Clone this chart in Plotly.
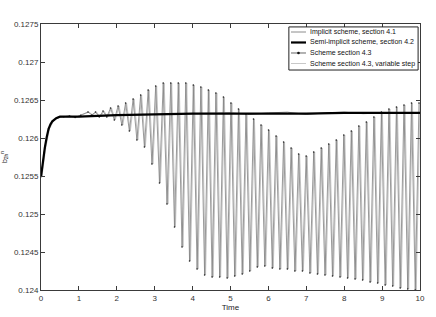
import numpy as np
import plotly.graph_objects as go

# ---- data ----
# Semi-implicit scheme (thick black)
semi_t = [0, 0.05, 0.1, 0.15, 0.2, 0.25, 0.3, 0.4, 0.5, 0.7, 1, 2, 3, 4, 5, 6, 7, 8, 9, 10]
semi_v = [0.12549, 0.12571, 0.12587, 0.12601, 0.12612, 0.12618, 0.12622, 0.12626, 0.12628,
          0.12628, 0.12628, 0.12630, 0.12631, 0.12632, 0.12632, 0.12632, 0.12632, 0.12633, 0.12633, 0.12633]

# Implicit scheme (gray, nearly hidden under the black line)
impl_t = [0, 0.05, 0.1, 0.15, 0.2, 0.25, 0.3, 0.4, 0.5, 0.7, 1, 2, 3, 4, 5, 5.5, 6, 6.5, 7, 7.5, 8, 8.5, 9, 10]
impl_v = [0.12549, 0.12570, 0.12586, 0.12600, 0.12611, 0.12618, 0.12622, 0.12626, 0.12628,
          0.12628, 0.12628, 0.12630, 0.12631, 0.12632, 0.12633, 0.12631, 0.12633, 0.12634, 0.12631,
          0.12633, 0.12634, 0.12632, 0.12633, 0.12633]

# Scheme section 4.3: start-up samples then alternating peaks / troughs
start_t = [0, 0.1, 0.2, 0.3, 0.45, 0.6, 0.75, 0.9, 1.05]
start_v = [0.12549, 0.12587, 0.12612, 0.12622, 0.12627, 0.12628, 0.12629, 0.12627, 0.12630]

peak_v = [0.126342, 0.126342, 0.126355, 0.126395, 0.126421, 0.126461, 0.126513, 0.126566, 0.126632, 0.126684,
          0.126724, 0.126724, 0.126724, 0.126724, 0.126697, 0.126671, 0.126632, 0.126592, 0.126539, 0.126461,
          0.126382, 0.126316, 0.126250, 0.126171, 0.126105, 0.126026, 0.125947, 0.125868, 0.125789, 0.125763,
          0.125816, 0.125868, 0.125921, 0.125974, 0.126039, 0.126092, 0.126158, 0.126211, 0.126276, 0.126342,
          0.126382, 0.126408, 0.126434, 0.126461, 0.126461]
trough_v = [0.126303, 0.126276, 0.126276, 0.126237, 0.126171, 0.126092, 0.125974, 0.125882, 0.125658, 0.125408,
            0.125132, 0.124829, 0.124566, 0.124382, 0.124276, 0.124197, 0.124171, 0.124171, 0.124158, 0.124184,
            0.124211, 0.124250, 0.124303, 0.124316, 0.124289, 0.124276, 0.124276, 0.124250, 0.124250, 0.124224,
            0.124211, 0.124197, 0.124184, 0.124171, 0.124158, 0.124145, 0.124132, 0.124105, 0.124092, 0.124066,
            0.124053, 0.124026, 0.124013, 0.124000]
first_peak_time = 1.24
half_period = 0.09925

x_ticks = [0, 1, 2, 3, 4, 5, 6, 7, 8, 9, 10]
y_ticks = [0.124, 0.1245, 0.125, 0.1255, 0.126, 0.1265, 0.127, 0.1275]
y_tick_text = ["0.124", "0.1245", "0.125", "0.1255", "0.126", "0.1265", "0.127", "0.1275"]

legend_names = ["Implicit scheme, section 4.1", "Semi-implicit scheme, section 4.2",
                "Scheme section 4.3", "Scheme section 4.3, variable step"]
legend_colors = ["#8c8c8c", "#000000", "#666666", "#c8c8c8"]
legend_widths = [1, 2.2, 1, 1]

# ---- assemble oscillating series (interleave peaks and troughs) ----
osc_v = []
for i in range(len(peak_v)):
    osc_v.append(peak_v[i])
    if i < len(trough_v):
        osc_v.append(trough_v[i])
osc_t = list(first_peak_time + half_period * np.arange(len(osc_v)))
s43_t = start_t + osc_t
s43_v = start_v + osc_v
var_t = [t + 0.025 for t in s43_t]

FONT = "Liberation Sans, Arial"

fig = go.Figure()
fig.add_trace(go.Scatter(x=impl_t, y=impl_v, mode="lines", name=legend_names[0],
                         line=dict(color=legend_colors[0], width=1)))
fig.add_trace(go.Scatter(x=var_t, y=s43_v, mode="lines", name=legend_names[3],
                         line=dict(color="#bdbdbd", width=0.9)))
fig.add_trace(go.Scatter(x=s43_t, y=s43_v, mode="lines+markers", name=legend_names[2],
                         line=dict(color="#808080", width=0.8),
                         marker=dict(color="#222222", size=1.6)))
fig.add_trace(go.Scatter(x=semi_t, y=semi_v, mode="lines", name=legend_names[1],
                         line=dict(color=legend_colors[1], width=2.2)))

# ---- MATLAB-like compact legend box (paper coordinates) ----
box_x0, box_x1, box_y0, box_y1 = 0.654, 0.995, 0.827, 0.989
row_y = [0.9699, 0.9305, 0.891, 0.8515]
samp_x0, samp_x1, text_x = 0.6596, 0.6992, 0.7045
shapes = [dict(type="rect", xref="paper", yref="paper", x0=box_x0, x1=box_x1, y0=box_y0, y1=box_y1,
               fillcolor="white", line=dict(color="#222222", width=1), layer="above")]
annotations = []
for name, col, w, yy in zip(legend_names, legend_colors, legend_widths, row_y):
    shapes.append(dict(type="line", xref="paper", yref="paper", x0=samp_x0, x1=samp_x1, y0=yy, y1=yy,
                       line=dict(color=col, width=w), layer="above"))
    annotations.append(dict(xref="paper", yref="paper", x=text_x, y=yy, text=name, showarrow=False,
                            xanchor="left", yanchor="middle",
                            font=dict(family=FONT, size=7, color="#111111")))
mid = (samp_x0 + samp_x1) / 2
shapes.append(dict(type="circle", xref="paper", yref="paper", x0=mid - 0.0035, x1=mid + 0.0035,
                   y0=row_y[2] - 0.005, y1=row_y[2] + 0.005, fillcolor="#111111",
                   line=dict(width=0), layer="above"))

axis_common = dict(showline=True, linecolor="#3a3a3a", linewidth=1, mirror="ticks",
                   ticks="inside", ticklen=4, tickcolor="#3a3a3a", showgrid=False, zeroline=False,
                   automargin=False,
                   tickfont=dict(family=FONT, size=8, color="#333333"))

fig.update_layout(
    width=436, height=317,
    margin=dict(l=41, r=16, t=24, b=27),
    paper_bgcolor="white", plot_bgcolor="white",
    showlegend=False,
    shapes=shapes, annotations=annotations,
    xaxis=dict(range=[0, 10], tickvals=x_ticks, **axis_common,
               title=dict(text="Time", font=dict(family=FONT, size=8, color="#222222"), standoff=1)),
    yaxis=dict(range=[0.124, 0.1275], tickvals=y_ticks, ticktext=y_tick_text, **axis_common,
               title=dict(text="b<sub>2h</sub><sup>n</sup>",
                          font=dict(family=FONT, size=7, color="#222222"), standoff=5)),
)

fig.write_html("out.html", config={"displayModeBar": False},
               post_script="document.body.style.margin='0';document.body.style.overflow='hidden';")
